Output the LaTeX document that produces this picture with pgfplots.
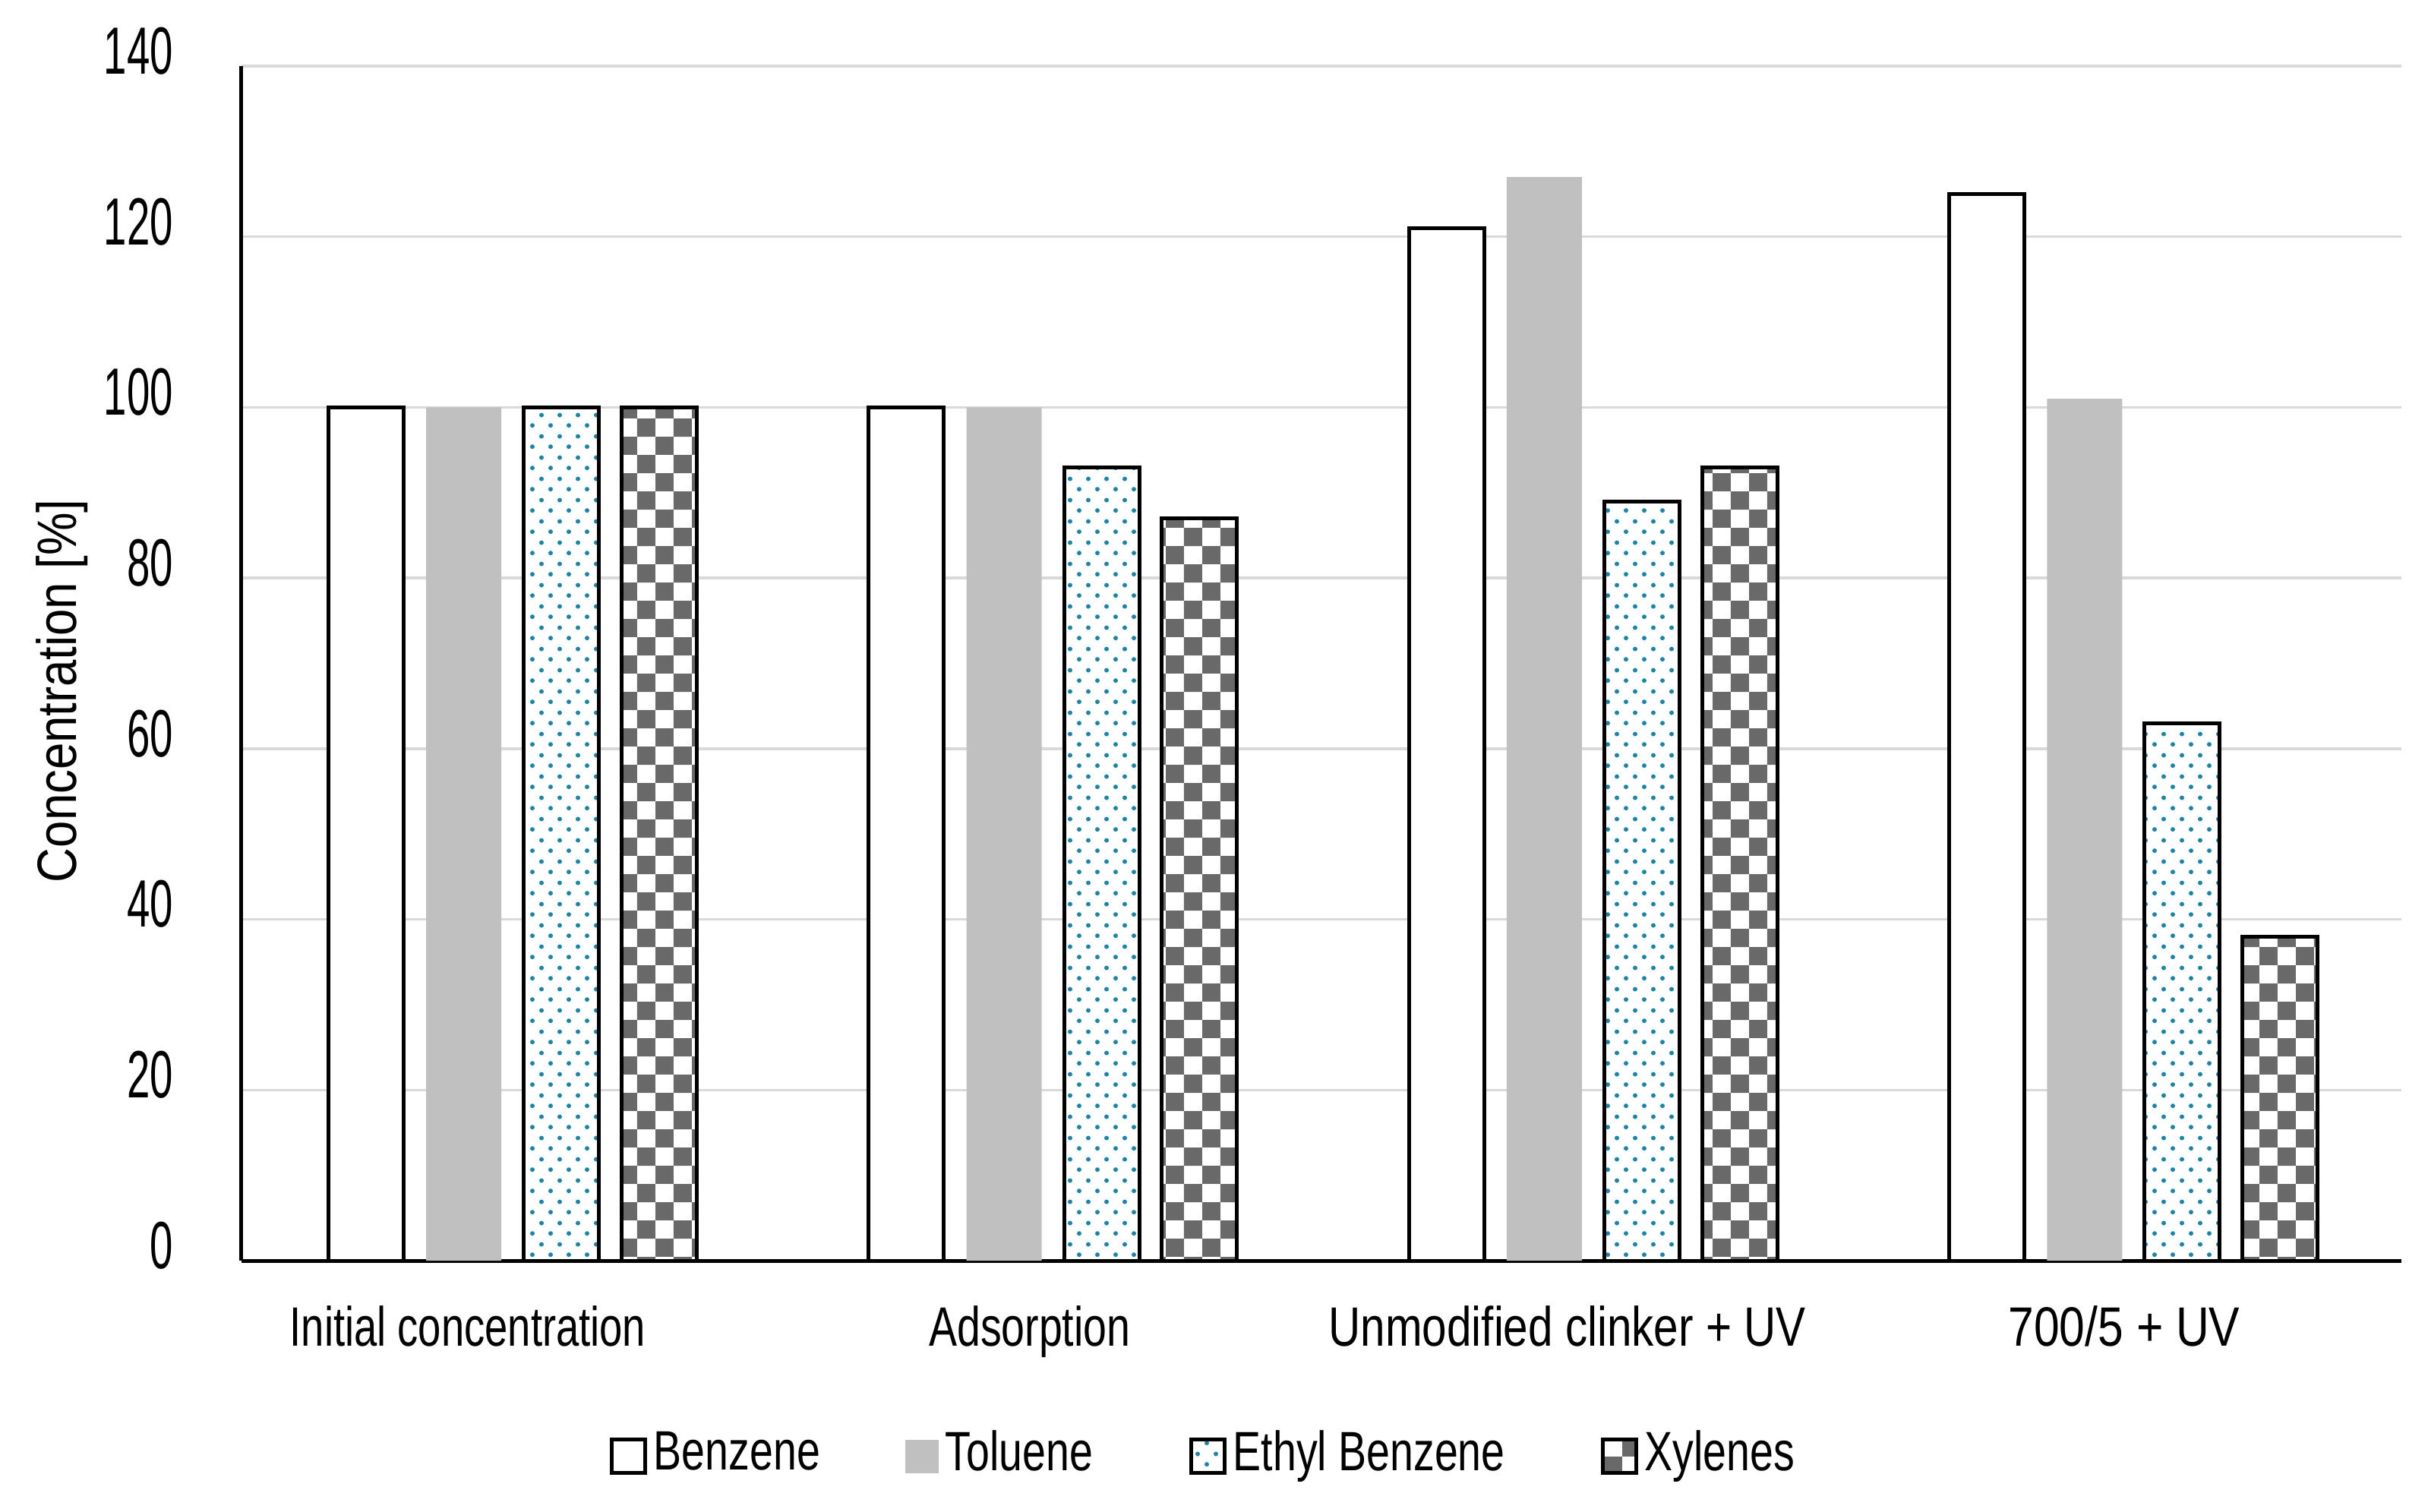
\documentclass[border=0pt]{standalone}
\usepackage{fontspec}
\setmainfont{Liberation Sans}[FakeStretch=0.76]
\newfontfamily\tickfont{Liberation Sans}[FakeStretch=0.62]
\newfontfamily\ylabfont{Liberation Sans}[FakeStretch=0.87]
\newfontfamily\labnarrow{Liberation Sans}[FakeStretch=0.745]
\newfontfamily\labwide{Liberation Sans}[FakeStretch=0.80]
\newfontfamily\labwider{Liberation Sans}[FakeStretch=0.83]
\usepackage{pgfplots}
\pgfplotsset{compat=1.18}
\usetikzlibrary{patterns.meta}

\definecolor{tolgray}{RGB}{192,192,192}
\definecolor{dotblue}{RGB}{20,135,175}
\definecolor{chkgray}{RGB}{105,105,105}
\definecolor{gridgray}{RGB}{217,217,217}

\tikzdeclarepattern{name=hexdots, type=uncolored,
  bounding box={(0pt,0pt) and (2.4pt,2.76pt)}, tile size={(2.4pt,2.76pt)},
  code={\fill (0.6pt,0.69pt) circle (0.3pt); \fill (1.8pt,2.07pt) circle (0.3pt);}}
\tikzdeclarepattern{name=checker, type=uncolored,
  bounding box={(0pt,0pt) and (4.8pt,4.8pt)}, tile size={(4.8pt,4.8pt)},
  code={\fill (0pt,0pt) rectangle (2.4pt,2.4pt); \fill (2.4pt,2.4pt) rectangle (4.8pt,4.8pt);}}

\pgfplotsset{legsq/.style={legend image code/.code={\draw[##1] (0pt,-2.2pt) rectangle (4.4pt,2.2pt);}}}

\begin{document}
\begin{tikzpicture}
\useasboundingbox (-31.8pt,-33pt) rectangle (287.9pt,166pt);
\begin{axis}[
    scale only axis,
    width=284.4pt, height=157.3pt,
    ybar=2.97pt, bar width=9.9pt,
    xmin=-0.502, xmax=3.496,
    ymin=0, ymax=140,
    enlargelimits=false,
    axis x line=bottom, axis y line=left,
    axis line style={-, line width=0.5pt, black},
    major tick length=0pt,
    ytick={0,20,...,140},
    ymajorgrids,
    grid style={gridgray, line width=0.35pt},
    xtick={-0.083,0.957,1.952,2.983},
    xticklabels={{\labnarrow Initial concentration}, Adsorption, {\labwide Unmodified clinker + UV}, {\labwider 700/5 + UV}},
    xticklabel style={font=\fontsize{7.3}{8.8}\selectfont, anchor=base, inner sep=0pt, yshift=-11.2pt},
    yticklabel style={font=\tickfont\fontsize{8.8}{10}\selectfont, anchor=east, inner sep=0pt, xshift=-8.8pt, yshift=2pt},
    /pgf/number format/assume math mode=true,
    ylabel={Concentration [\%]},
    ylabel style={font=\ylabfont\fontsize{7.3}{8.8}\selectfont, at={(axis description cs:-0.083,0.477)}, anchor=center},
    legend columns=4,
    legend style={draw=none, fill=none, inner sep=0pt, at={(0.1698,-0.164)}, anchor=west,
      font=\fontsize{7.3}{8.8}\selectfont,
      /tikz/every even column/.append style={column sep=0pt},
      nodes={inner sep=0.9pt}},
]
\addplot[draw=black, line width=0.5pt, fill=white, legsq]
  coordinates {(0,100) (1,100) (2,121) (3,125)};
\addplot[draw=none, fill=tolgray,
    legend image code/.code={\fill[tolgray] (0pt,-2.2pt) rectangle (4.4pt,2.2pt);}]
  coordinates {(0,100) (1,100) (2,127) (3,101)};
\addplot[draw=black, line width=0.5pt, fill=white, postaction={pattern=hexdots, pattern color=dotblue}, legsq]
  coordinates {(0,100) (1,93) (2,89) (3,63)};
\addplot[draw=black, line width=0.5pt, fill=white, postaction={pattern=checker, pattern color=chkgray}, legsq]
  coordinates {(0,100) (1,87) (2,93) (3,38)};
\legend{\makebox[32.2pt][l]{Benzene}, \makebox[31.2pt][l]{Toluene}, \makebox[47.5pt][l]{Ethyl Benzene}, Xylenes}
\end{axis}
\end{tikzpicture}
\end{document}
